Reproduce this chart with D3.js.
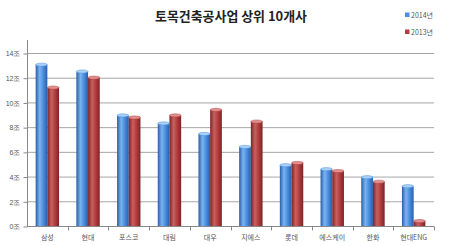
<!DOCTYPE html>
<html>
<head>
<meta charset="utf-8">
<script src="https://cdn.jsdelivr.net/npm/d3@7"></script>
<style>
body { margin: 0; background: #fff; }
svg { display: block; font-family: "Noto Sans CJK KR", "Noto Sans", sans-serif; }
.axis text { fill: #555; font-size: 7px; }
</style>
</head>
<body>
<div id="chart"></div>
<script>
// Data
const companies = ['삼성', '현대', '포스코', '대림', '대우', '지에스', '롯데', '에스케이', '한화', '현대ENG'];
const values2014 = [13.05, 12.5, 8.95, 8.3, 7.45, 6.4, 4.92, 4.6, 3.95, 3.22];
const values2013 = [11.2, 12.0, 8.78, 8.95, 9.4, 8.45, 5.1, 4.45, 3.58, 0.4];
const seriesNames = ['2014년', '2013년'];
const yTicks = [0, 2, 4, 6, 8, 10, 12, 14];

const chart = {
    totalWidth: 454,
    totalHeight: 246,
    margin: { top: 53, bottom: 20, left: 27, right: 20 }
};
chart.width = chart.totalWidth - chart.margin.left - chart.margin.right;
chart.height = chart.totalHeight - chart.margin.top - chart.margin.bottom;

const svg = d3.select('#chart')
    .append('svg')
    .attr('width', chart.totalWidth)
    .attr('height', chart.totalHeight);

// Gradients for the cylinder look
const defs = svg.append('defs');
const colors = [
    { id: 'g2014', dark: '#2a5ea8', mid: '#4a8ee0', light: '#7ab4f0', top: '#a9d0f7' },
    { id: 'g2013', dark: '#7a2426', mid: '#b03e3e', light: '#c86060', top: '#e08f8f' }
];
colors.forEach(c => {
    const g = defs.append('linearGradient').attr('id', c.id)
        .attr('x1', '0%').attr('x2', '100%').attr('y1', '0%').attr('y2', '0%');
    g.append('stop').attr('offset', '0%').attr('stop-color', c.dark);
    g.append('stop').attr('offset', '35%').attr('stop-color', c.light);
    g.append('stop').attr('offset', '65%').attr('stop-color', c.mid);
    g.append('stop').attr('offset', '100%').attr('stop-color', c.dark);
});

const plot = svg.append('g')
    .attr('transform', `translate(${chart.margin.left}, ${chart.margin.top})`);

// Scales
const x0 = d3.scaleBand().domain(companies).range([0, chart.width]);
const x1 = d3.scaleBand().domain(seriesNames)
    .range([0, x0.bandwidth() * 0.575])
    .paddingInner(0);
const yScale = d3.scaleLinear().domain([0, 14]).range([chart.height, 0]);

// Grid
plot.append('g')
    .selectAll('line')
    .data(yTicks.slice(1))
    .enter()
    .append('line')
    .attr('x1', 0)
    .attr('x2', chart.width)
    .attr('y1', d => yScale(d) + 0.5)
    .attr('y2', d => yScale(d) + 0.5)
    .attr('stroke', '#a6a6a6');

// Y-axis
const yAxis = d3.axisLeft(yScale)
    .tickValues(yTicks)
    .tickSize(4)
    .tickFormat(d => d + '조');
const yG = plot.append('g').classed('axis', true)
    .attr('transform', 'translate(0.5, 0.5)')
    .call(yAxis);
yG.select('.domain').remove();
yG.selectAll('.tick line').attr('stroke', '#888');
yG.selectAll('.tick text').attr('x', -7);
plot.append('line')
    .attr('x1', 0.5).attr('x2', 0.5)
    .attr('y1', -13).attr('y2', chart.height)
    .attr('stroke', '#888');

// X-axis
const xG = plot.append('g').classed('axis', true)
    .attr('transform', `translate(0, ${chart.height + 0.5})`);
xG.append('line')
    .attr('x1', 0).attr('x2', chart.width)
    .attr('stroke', '#888');
xG.selectAll('.sep')
    .data(companies)
    .enter()
    .append('line')
    .attr('x1', d => Math.round(x0(d) + x0.bandwidth()) + 0.5)
    .attr('x2', d => Math.round(x0(d) + x0.bandwidth()) + 0.5)
    .attr('y1', 0).attr('y2', 4)
    .attr('stroke', '#888');
xG.selectAll('text')
    .data(companies)
    .enter()
    .append('text')
    .attr('x', d => x0(d) + x0.bandwidth() / 2)
    .attr('y', 13)
    .attr('text-anchor', 'middle')
    .text(d => d);

// Bars
const groupOffset = (x0.bandwidth() - x1.range()[1]) / 2;
const data = companies.map((c, i) => ({
    company: c,
    values: [
        { key: seriesNames[0], value: values2014[i], color: colors[0] },
        { key: seriesNames[1], value: values2013[i], color: colors[1] }
    ]
}));

const groups = plot.append('g')
    .selectAll('g')
    .data(data)
    .enter()
    .append('g')
    .attr('transform', d => `translate(${x0(d.company) + groupOffset}, 0)`);

const bars = groups.selectAll('g')
    .data(d => d.values)
    .enter()
    .append('g');

bars.append('rect')
    .attr('x', d => x1(d.key))
    .attr('y', d => yScale(d.value))
    .attr('width', x1.bandwidth())
    .attr('height', d => chart.height - yScale(d.value))
    .attr('fill', d => `url(#${d.color.id})`);

bars.append('ellipse')
    .attr('cx', d => x1(d.key) + x1.bandwidth() / 2)
    .attr('cy', d => yScale(d.value))
    .attr('rx', x1.bandwidth() / 2)
    .attr('ry', 1.6)
    .attr('fill', d => d.color.top)
    .attr('stroke', d => d.color.mid)
    .attr('stroke-width', 0.5);

// Title
svg.append('text')
    .attr('x', 231)
    .attr('y', 20.5)
    .attr('text-anchor', 'middle')
    .attr('font-size', 13)
    .attr('font-weight', 'bold')
    .attr('fill', '#222')
    .attr('textLength', 152)
    .attr('lengthAdjust', 'spacingAndGlyphs')
    .text('토목건축공사업 상위 10개사');

// Legend
const legend = svg.append('g')
    .selectAll('g')
    .data(seriesNames)
    .enter()
    .append('g')
    .attr('transform', (d, i) => `translate(405, ${16 + i * 17})`);
legend.append('rect')
    .attr('x', 0).attr('y', -3.5)
    .attr('width', 4.5).attr('height', 4.5)
    .attr('fill', (d, i) => colors[i].mid);
legend.append('text')
    .attr('x', 6)
    .attr('y', 1)
    .attr('dy', '0.1em')
    .attr('font-size', 7)
    .attr('fill', '#555')
    .text(d => d);
</script>
</body>
</html>
